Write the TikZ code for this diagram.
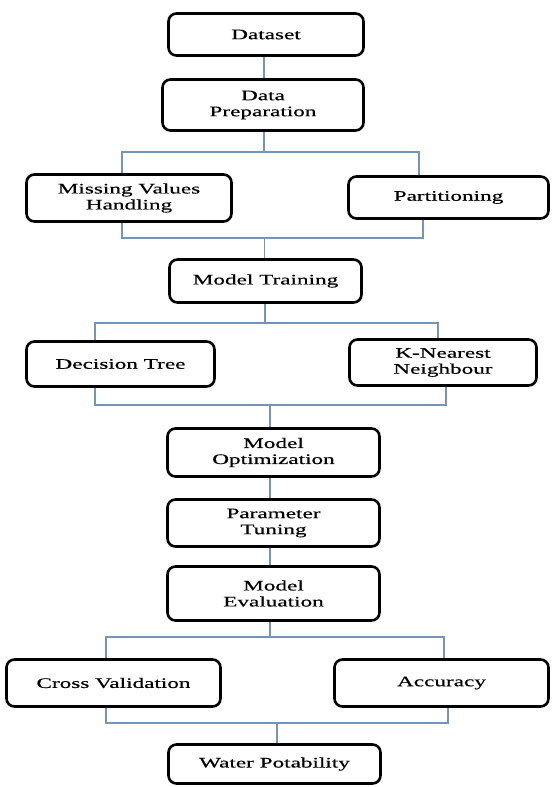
\documentclass[tikz,border=0pt]{standalone}
\usepackage{fontspec}
\setmainfont{Liberation Serif}[FakeStretch=1.6,FakeBold=0.4]
\definecolor{linkblue}{RGB}{118,148,182}
\tikzset{
  box/.style={draw=black,line width=2.6pt,rounded corners=8pt,fill=white,
    align=center,inner sep=0pt,font=\fontsize{14.5}{16}\selectfont},
  link/.style={draw=linkblue,line width=1.2pt}
}
\begin{document}
\begin{tikzpicture}[x=1pt,y=-1pt]
            \useasboundingbox (0,0) rectangle (553,787);
            \node[box,minimum width=195pt,minimum height=42pt] (dataset) at (266,34.5) {Dataset};
            \node[box,minimum width=201pt,minimum height=51pt] (prep) at (263,105) {Data\\Preparation};
            \node[box,minimum width=205pt,minimum height=47pt] (missing) at (129,198) {Missing Values\\Handling};
            \node[box,minimum width=200pt,minimum height=42pt] (partition) at (448.5,197.5) {Partitioning};
            \node[box,minimum width=192pt,minimum height=43pt] (training) at (265.5,281) {Model Training};
            \node[box,minimum width=188pt,minimum height=45pt] (dtree) at (120.5,364) {Decision Tree};
            \node[box,minimum width=187pt,minimum height=46pt] (knn) at (443,362.5) {K-Nearest\\Neighbour};
            \node[box,minimum width=212pt,minimum height=48pt] (optim) at (273.5,452.5) {Model\\Optimization};
            \node[box,minimum width=212pt,minimum height=47pt] (tuning) at (273.5,523) {Parameter\\Tuning};
            \node[box,minimum width=212pt,minimum height=54pt] (evaluation) at (273.5,593.5) {Model\\Evaluation};
            \node[box,minimum width=214pt,minimum height=47pt] (crossval) at (113.5,683) {Cross Validation};
            \node[box,minimum width=214pt,minimum height=47pt] (accuracy) at (441.5,683) {Accuracy};
            \node[box,minimum width=212pt,minimum height=39pt] (water) at (274.5,764) {Water Potability};
        %
            \coordinate (b1) at (264,152);   \coordinate (b1l) at (122,152); \coordinate (b1r) at (419,152);
            \coordinate (j1) at (264.5,238); \coordinate (j1l) at (122,238); \coordinate (j1r) at (423,238);
            \coordinate (b2) at (265,323);   \coordinate (b2l) at (95,323);  \coordinate (b2r) at (438,323);
            \coordinate (j2) at (270,405);   \coordinate (j2l) at (95,405);  \coordinate (j2r) at (446,405);
            \coordinate (b3) at (270,637);   \coordinate (b3l) at (106,637); \coordinate (b3r) at (444,637);
            \coordinate (j3) at (277,723);   \coordinate (j3l) at (106,723); \coordinate (j3r) at (448,723);
        %
            \draw[link] (dataset.south -| b1) -- (prep.north -| b1);
            \draw[link] (prep.south -| b1) -- (b1);
            \draw[link] (missing.north -| b1l) -- (b1l) -- (b1r) -- (partition.north -| b1r);
            \draw[link] (missing.south -| j1l) -- (j1l) -- (j1r) -- (partition.south -| j1r);
            \draw[link] (j1) -- (training.north -| j1);
            \draw[link] (training.south -| b2) -- (b2);
            \draw[link] (dtree.north -| b2l) -- (b2l) -- (b2r) -- (knn.north -| b2r);
            \draw[link] (dtree.south -| j2l) -- (j2l) -- (j2r) -- (knn.south -| j2r);
            \draw[link] (j2) -- (optim.north -| j2);
            \draw[link] (optim.south -| j2) -- (tuning.north -| j2);
            \draw[link] (tuning.south -| j2) -- (evaluation.north -| j2);
            \draw[link] (evaluation.south -| b3) -- (b3);
            \draw[link] (crossval.north -| b3l) -- (b3l) -- (b3r) -- (accuracy.north -| b3r);
            \draw[link] (crossval.south -| j3l) -- (j3l) -- (j3r) -- (accuracy.south -| j3r);
            \draw[link] (j3) -- (water.north -| j3);
        \end{tikzpicture}
\end{document}
